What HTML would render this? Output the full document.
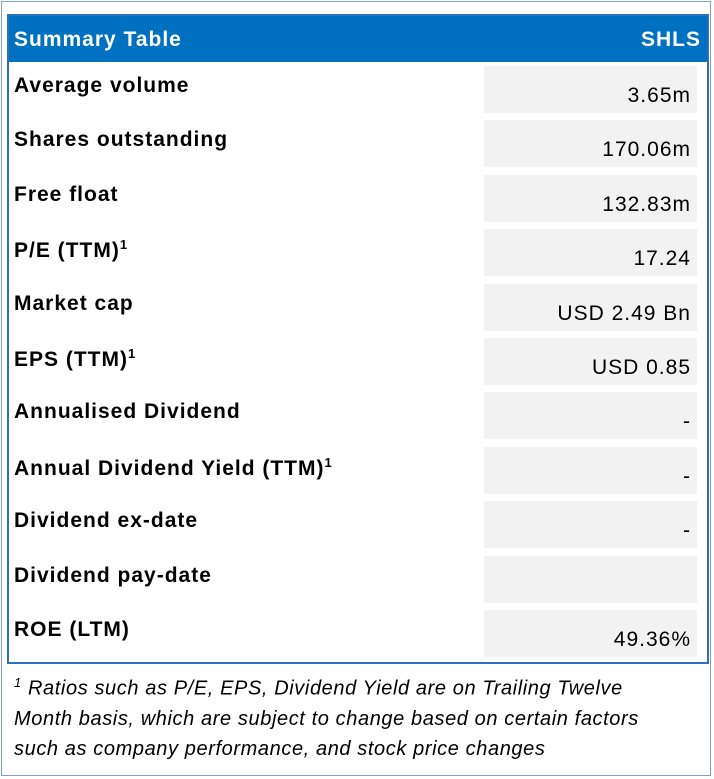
<!DOCTYPE html>
<html><head><meta charset="utf-8">
<style>
body{margin:0;width:714px;height:779px;background:#fff;font-family:"Liberation Sans",sans-serif;position:relative;overflow:hidden}
.outer{position:absolute;left:1px;top:1px;width:710px;height:775px;border:1px solid #7f9fd0;box-sizing:border-box}
.tbl{position:absolute;left:7px;top:14px;width:702px;height:650px;border:2px solid #2e6fc0;box-sizing:border-box}
.hdr{position:absolute;left:9px;top:16px;width:698px;height:46px;background:#0070c0;color:#fff;font-weight:bold;font-size:21px;letter-spacing:1px}
.hdr span{position:absolute;top:12px}
.row{position:absolute;left:0;width:714px;height:48px}
.lbl{position:absolute;left:14px;top:8px;font-weight:bold;font-size:21px;letter-spacing:1px;color:#000;white-space:nowrap}
.lbl sup{font-size:13px}
.val{position:absolute;left:484px;width:213px;top:0;height:47px;background:#f2f2f2}
.val span{position:absolute;right:6px;bottom:5px;font-size:21px;letter-spacing:1px;color:#000}
.foot{position:absolute;left:14px;top:668px;font-style:italic;font-size:20px;letter-spacing:0.6px;line-height:30px;color:#000;white-space:nowrap}
.foot sup{font-size:13px}
</style></head><body>
<div class="outer"></div>
<div class="tbl"></div>
<div class="hdr">
<span style="left:5px">Summary Table</span>
<span style="right:6px">SHLS</span></div>
<div id="rows"></div>
<div class="foot"><sup>1</sup> Ratios such as P/E, EPS, Dividend Yield are on Trailing Twelve<br>Month basis, which are subject to change based on certain factors<br>such as company performance, and stock price changes</div>
<script>
const labels=["Average volume","Shares outstanding","Free float","P/E (TTM)<sup>1</sup>","Market cap","EPS (TTM)<sup>1</sup>","Annualised Dividend","Annual Dividend Yield (TTM)<sup>1</sup>","Dividend ex-date","Dividend pay-date","ROE (LTM)"];
const values=["3.65m","170.06m","132.83m","17.24","USD 2.49 Bn","USD 0.85","-","-","-","","49.36%"];
const c=document.getElementById('rows');
labels.forEach((l,i)=>{
 const r=document.createElement('div');r.className='row';r.style.top=(66+i*54.4)+'px';
 
 
 const a=document.createElement('div');a.className='lbl';a.innerHTML=l;
 
 
 const v=document.createElement('div');v.className='val';
 
 
 const s=document.createElement('span');s.textContent=values[i];v.appendChild(s);
 r.appendChild(a);r.appendChild(v);c.appendChild(r);
});
</script>
</body></html>
